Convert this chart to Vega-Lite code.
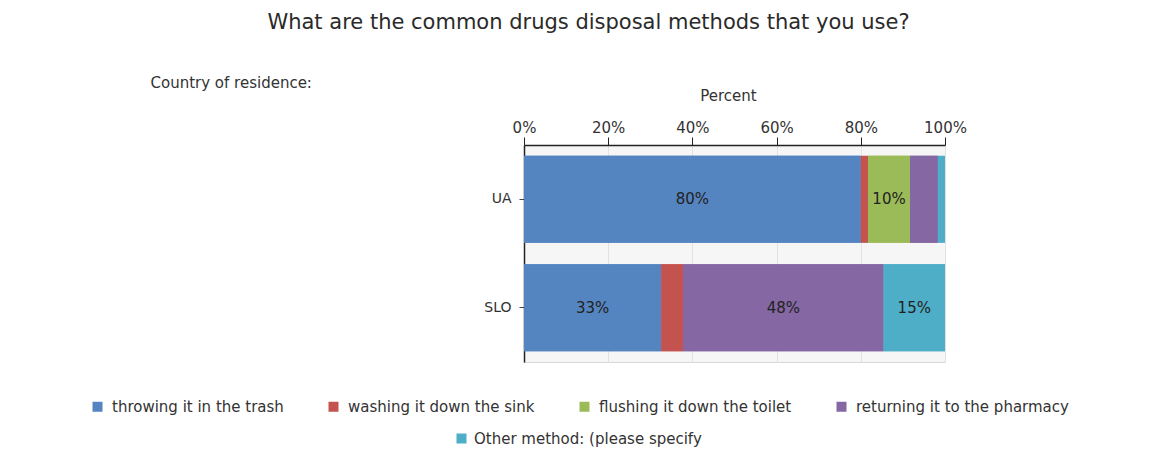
{
  "$schema": "https://vega.github.io/schema/vega-lite/v6.json",
  "autosize": {"type": "none"},
  "width": 421,
  "height": 217,
  "padding": {"left": 524, "top": 145, "right": 206, "bottom": 102},
  "background": "white",
  "title": {
    "text": "What are the common drugs disposal methods that you use?",
    "anchor": "middle",
    "dx": -146,
    "offset": 42,
    "font": "DejaVu Sans",
    "fontSize": 21,
    "fontWeight": "normal",
    "color": "#2a2a2a"
  },
  "config": {
    "font": "DejaVu Sans",
    "axis": {"labelFont": "DejaVu Sans", "titleFont": "DejaVu Sans"},
    "legend": {"labelFont": "DejaVu Sans"},
    "text": {"font": "DejaVu Sans"},
    "view": {"fill": "#f6f6f6", "stroke": "#d8d8d8", "strokeWidth": 1}
  },
  "data": {
    "values": [
      {"country": "UA", "method": "throwing it in the trash", "k": 1, "share": 0.80},
      {"country": "UA", "method": "washing it down the sink", "k": 2, "share": 0.017},
      {"country": "UA", "method": "flushing it down the toilet", "k": 3, "share": 0.10},
      {"country": "UA", "method": "returning it to the pharmacy", "k": 4, "share": 0.066},
      {"country": "UA", "method": "Other method: (please specify", "k": 5, "share": 0.017},
      {"country": "SLO", "method": "throwing it in the trash", "k": 1, "share": 0.326},
      {"country": "SLO", "method": "washing it down the sink", "k": 2, "share": 0.052},
      {"country": "SLO", "method": "returning it to the pharmacy", "k": 4, "share": 0.476},
      {"country": "SLO", "method": "Other method: (please specify", "k": 5, "share": 0.146}
    ]
  },
  "transform": [
    {"stack": "share", "groupby": ["country"], "sort": [{"field": "k", "order": "ascending"}], "as": ["x0", "x1"]},
    {"calculate": "(datum.x0 + datum.x1) / 2", "as": "mid"}
  ],
  "encoding": {
    "y": {
      "field": "country",
      "type": "nominal",
      "sort": ["UA", "SLO"],
      "scale": {"paddingInner": 0.2, "paddingOuter": 0.1},
      "axis": {
        "title": "Country of residence:",
        "titleAngle": 0,
        "titleX": -374,
        "titleY": -63,
        "titleAlign": "left",
        "titleBaseline": "middle",
        "titleFontSize": 15,
        "titleFontWeight": "normal",
        "titleColor": "#333333",
        "domainColor": "#222222",
        "domainWidth": 1.5,
        "tickColor": "#444444",
        "tickSize": 5,
        "labelPadding": 8,
        "labelFontSize": 14,
        "labelColor": "#333333"
      }
    }
  },
  "layer": [
    {
      "mark": {"type": "bar"},
      "encoding": {
        "x": {
          "field": "x0",
          "type": "quantitative",
          "scale": {"domain": [0, 1], "nice": false},
          "axis": {
            "orient": "top",
            "title": "Percent",
            "format": ".0%",
            "values": [0, 0.2, 0.4, 0.6, 0.8, 1],
            "titleFontWeight": "normal",
            "titleFontSize": 15,
            "titleColor": "#333333",
            "titlePadding": 17,
            "titleX": 204,
            "labelFontSize": 15,
            "labelColor": "#333333",
            "labelPadding": 2,
            "domainColor": "#222222",
            "domainWidth": 1.5,
            "tickColor": "#222222",
            "tickSize": 8,
            "grid": true,
            "gridColor": "#e2e2e2",
            "labelFlush": false
          }
        },
        "x2": {"field": "x1"},
        "color": {
          "field": "method",
          "type": "nominal",
          "scale": {
            "domain": ["throwing it in the trash", "washing it down the sink", "flushing it down the toilet", "returning it to the pharmacy", "Other method: (please specify"],
            "range": ["#5585c0", "#c4534f", "#9bbb59", "#8467a3", "#4eadc7"]
          },
          "legend": {
            "title": null,
            "orient": "none",
            "legendX": -434,
            "legendY": 254,
            "direction": "horizontal",
            "columns": 4,
            "columnPadding": 42,
            "values": ["throwing it in the trash", "washing it down the sink", "flushing it down the toilet", "returning it to the pharmacy"],
            "symbolType": "square",
            "symbolSize": 100,
            "symbolStrokeWidth": 0,
            "labelFontSize": 15,
            "labelColor": "#333333",
            "labelOffset": 7,
            "labelLimit": 400
          }
        }
      }
    },
    {
      "mark": {"type": "bar"},
      "encoding": {
        "x": {"field": "x0", "type": "quantitative"},
        "x2": {"field": "x1"},
        "color": {
          "field": "method",
          "type": "nominal",
          "scale": {
            "domain": ["throwing it in the trash", "washing it down the sink", "flushing it down the toilet", "returning it to the pharmacy", "Other method: (please specify"],
            "range": ["#5585c0", "#c4534f", "#9bbb59", "#8467a3", "#4eadc7"]
          },
          "legend": {
            "title": null,
            "orient": "none",
            "legendX": -70,
            "legendY": 286,
            "values": ["Other method: (please specify"],
            "symbolType": "square",
            "symbolSize": 100,
            "symbolStrokeWidth": 0,
            "labelFontSize": 15,
            "labelColor": "#333333",
            "labelOffset": 5,
            "labelLimit": 400
          }
        }
      }
    },
    {
      "transform": [{"filter": "datum.share >= 0.09"}],
      "mark": {"type": "text", "fontSize": 15, "color": "#222222", "baseline": "middle", "align": "center"},
      "encoding": {
        "x": {"field": "mid", "type": "quantitative"},
        "text": {"field": "share", "type": "quantitative", "format": ".0%"}
      }
    }
  ],
  "resolve": {"scale": {"color": "independent"}}
}
